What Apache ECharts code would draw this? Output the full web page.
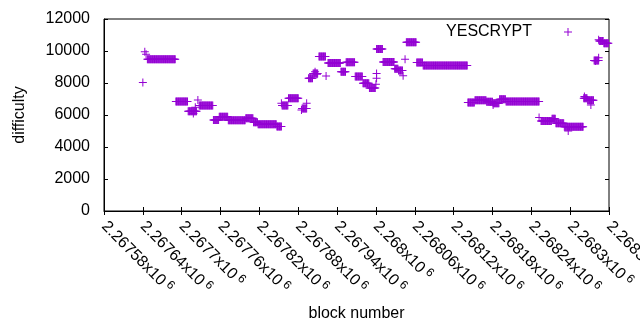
<!DOCTYPE html>
<html>

<head>
    <meta charset="utf-8">
    <script type="text/javascript" src="https://cdn.jsdelivr.net/npm/echarts@6/dist/echarts.min.js"></script>
    <title>YESCRYPT difficulty</title>
    <style>
        body { margin: 0; background: #fff; }
    </style>
</head>

<body>
    <div id="container" style="width:640px;height:330px;"></div>
    <script type="text/javascript">
    // runs of consecutive blocks that keep the same difficulty
    var runFirst = [2267647, 2267691, 2267710, 2267727, 2267749, 2267758, 2267772, 2267799, 2267811, 2267818,
        2267847, 2267855, 2267865, 2267886, 2267896, 2267903, 2267912, 2267926, 2267946, 2267954,
        2267968, 2267980, 2267990, 2268001, 2268011, 2268029, 2268035, 2268047, 2268063, 2268073,
        2268142, 2268153, 2268171, 2268181, 2268191, 2268201, 2268255, 2268272, 2268278, 2268291,
        2268321, 2268327, 2268337, 2268345, 2268352];
    var runLast = [2267690, 2267709, 2267723, 2267748, 2267757, 2267771, 2267798, 2267810, 2267817, 2267846,
        2267854, 2267864, 2267880, 2267893, 2267902, 2267910, 2267922, 2267945, 2267953, 2267967,
        2267979, 2267989, 2267999, 2268010, 2268028, 2268034, 2268041, 2268062, 2268072, 2268141,
        2268152, 2268170, 2268180, 2268190, 2268200, 2268252, 2268271, 2268277, 2268290, 2268320,
        2268326, 2268336, 2268344, 2268351, 2268359];
    var runValue = [9480, 6850, 6230, 6600, 5680, 5890, 5670, 5790, 5540, 5420,
        5280, 6600, 7050, 6400, 8300, 8600, 9650, 9250, 8700, 9300,
        8400, 7980, 7680, 10120, 9320, 8890, 8780, 10550, 9280, 9090,
        6780, 6920, 6830, 6730, 6980, 6850, 5620, 5760, 5480, 5270,
        7040, 6920, 9400, 10620, 10480];

    // single blocks that stand apart
    var singleBlock = [2267640, 2267643, 2267645, 2267718, 2267721, 2267725, 2267854, 2267885, 2267893, 2267906,
        2267909, 2267923, 2268000, 2268001, 2268001, 2268042, 2268045, 2268181, 2268252, 2268297,
        2268322, 2268332, 2268339, 2268344, 2268344];
    var singleValue = [8030, 9950, 9800, 6100, 6480, 6930, 6730, 6310, 6730, 8710,
        8540, 8440, 7920, 8290, 8600, 8460, 9480, 6620, 5850, 5000,
        7150, 6620, 9380, 9580, 10700];

    var xTickLabels = ['2.26758', '2.26764', '2.2677', '2.26776', '2.26782', '2.26788', '2.26794',
        '2.268', '2.26806', '2.26812', '2.26818', '2.26824', '2.2683', '2.26836'];
    var xMin = 2267580, xMax = 2268360, xStep = 60;

    var points = [];
    for (var i = 0; i < runFirst.length; i++) {
        for (var b = runFirst[i]; b <= runLast[i]; b++) {
            points.push([b, runValue[i]]);
        }
    }
    for (var j = 0; j < singleBlock.length; j++) {
        points.push([singleBlock[j], singleValue[j]]);
    }

    var plus = 'path://M3.5,0H4.5V3.5H8V4.5H4.5V8H3.5V4.5H0V3.5H3.5Z';
    var font = 'Liberation Sans';
    var violet = '#9400d3';

    var myChart = echarts.init(document.getElementById('container'));

    var option = {
        animation: false,
        textStyle: { fontFamily: font, color: '#000' },
        grid: {
            left: 104, right: 31, top: 19, bottom: 119,
            outerBoundsMode: 'none',
            containLabel: false,
            show: true, borderColor: '#000', borderWidth: 1
        },
        legend: {
            data: ['YESCRYPT'],
            align: 'right',
            right: 68,
            top: 24,
            padding: 0,
            itemWidth: 8,
            itemHeight: 8,
            icon: plus,
            textStyle: { fontFamily: font, fontSize: 16, color: '#000', padding: [0, 27, 0, 0] }
        },
        xAxis: [{
            type: 'value',
            min: xMin, max: xMax, interval: xStep,
            name: 'block number',
            nameLocation: 'middle',
            nameGap: 95,
            nameTextStyle: { fontFamily: font, fontSize: 16, color: '#000' },
            axisLine: { show: true, lineStyle: { color: '#000', width: 1 } },
            axisTick: { inside: true, length: 4, lineStyle: { color: '#000' } },
            splitLine: { show: false },
            axisLabel: {
                rotate: -45,
                margin: 13,
                color: '#000',
                formatter: function (v) {
                    var k = Math.round((v - xMin) / xStep);
                    return '{m|' + xTickLabels[k] + 'x10}{s| 6}';
                },
                rich: {
                    m: { fontFamily: font, fontSize: 16, color: '#000', lineHeight: 19 },
                    s: { fontFamily: font, fontSize: 12, color: '#000', verticalAlign: 'top' }
                }
            }
        }, {
            type: 'value',
            position: 'top',
            min: xMin, max: xMax, interval: xStep,
            axisLine: { show: false },
            axisTick: { inside: true, length: 4, lineStyle: { color: '#000' } },
            axisLabel: { show: false },
            splitLine: { show: false }
        }],
        yAxis: [{
            type: 'value',
            min: 0, max: 12000, interval: 2000,
            name: 'difficulty',
            nameLocation: 'middle',
            nameGap: 76,
            nameTextStyle: { fontFamily: font, fontSize: 16, color: '#000' },
            axisLine: { show: true, lineStyle: { color: '#000', width: 1 } },
            axisTick: { inside: true, length: 4, lineStyle: { color: '#000' } },
            splitLine: { show: false },
            axisLabel: {
                margin: 14, fontFamily: font, fontSize: 16, color: '#000',
                formatter: function (v) { return String(v); }
            }
        }, {
            type: 'value',
            position: 'right',
            min: 0, max: 12000, interval: 2000,
            axisLine: { show: false },
            axisTick: { inside: true, length: 4, lineStyle: { color: '#000' } },
            axisLabel: { show: false },
            splitLine: { show: false }
        }],
        series: [{
            name: 'YESCRYPT',
            type: 'scatter',
            xAxisIndex: 0,
            yAxisIndex: 0,
            symbol: plus,
            symbolSize: 8,
            itemStyle: { color: violet, opacity: 1 },
            data: points
        }]
    };

    myChart.setOption(option);
    </script>
</body>

</html>
